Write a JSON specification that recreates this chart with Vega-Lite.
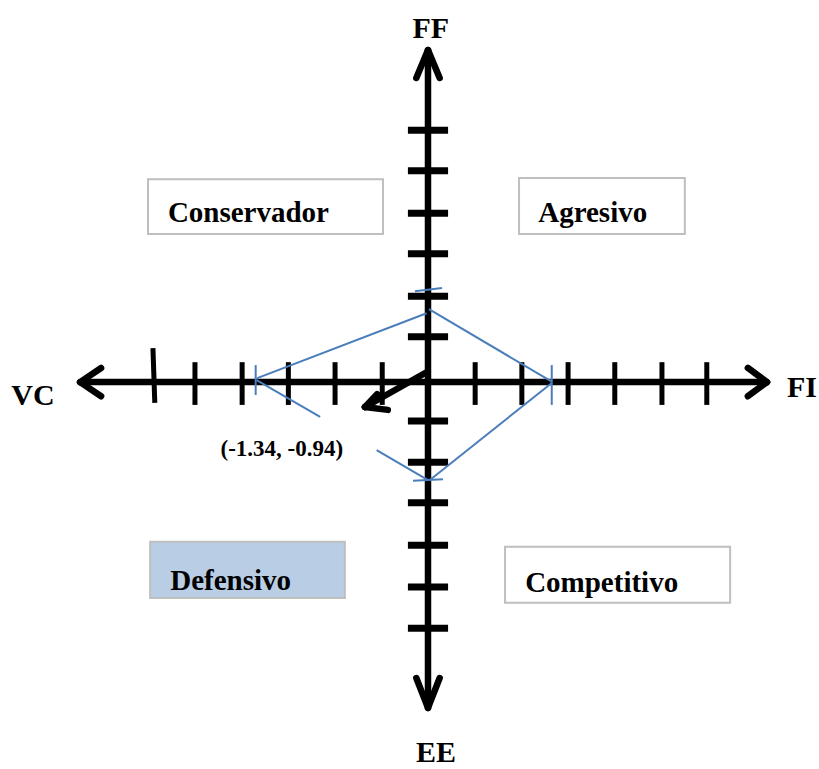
{
  "$schema": "https://vega.github.io/schema/vega-lite/v6.json",
  "width": 819,
  "height": 769,
  "autosize": {"type": "fit", "contains": "padding"},
  "padding": 0,
  "background": "white",
  "config": {"view": {"stroke": null}},
  "datasets": {
    "boxes": [
      {"name": "Conservador", "x": -5.996, "x2": -0.964, "y": 4.84, "y2": 3.52},
      {"name": "Agresivo", "x": 1.95, "x2": 5.50, "y": 4.87, "y2": 3.52},
      {"name": "Competitivo", "x": 1.65, "x2": 6.47, "y": -4.02, "y2": -5.37}
    ],
    "filledBoxes": [
      {"name": "Defensivo", "x": -5.95, "x2": -1.78, "y": -3.90, "y2": -5.25}
    ],
    "axes": [
      {"part": "horizontal", "x": -7.42, "y": -0.05, "x2": 7.24, "y2": -0.05},
      {"part": "vertical", "x": 0, "y": -7.88, "x2": 0, "y2": 7.93},
      {"part": "left head a", "x": -7.45, "y": -0.05, "x2": -7.0, "y2": 0.29},
      {"part": "left head b", "x": -7.45, "y": -0.05, "x2": -7.0, "y2": -0.39},
      {"part": "right head a", "x": 7.26, "y": -0.05, "x2": 6.85, "y2": 0.29},
      {"part": "right head b", "x": 7.26, "y": -0.05, "x2": 6.85, "y2": -0.39},
      {"part": "top head a", "x": 0, "y": 7.95, "x2": -0.25, "y2": 7.28},
      {"part": "top head b", "x": 0, "y": 7.95, "x2": 0.25, "y2": 7.28},
      {"part": "bottom head a", "x": 0, "y": -7.9, "x2": -0.25, "y2": -7.18},
      {"part": "bottom head b", "x": 0, "y": -7.9, "x2": 0.25, "y2": -7.18}
    ],
    "xTicks": [
      {"x": -5.89, "y": 0.77, "x2": -5.85, "y2": -0.55},
      {"x": -4.99, "y": 0.43, "x2": -4.99, "y2": -0.6},
      {"x": -3.98, "y": 0.43, "x2": -3.98, "y2": -0.6},
      {"x": -2.99, "y": 0.43, "x2": -2.99, "y2": -0.6},
      {"x": -1.99, "y": 0.43, "x2": -1.99, "y2": -0.6},
      {"x": -0.98, "y": 0.43, "x2": -0.98, "y2": -0.6},
      {"x": 1.01, "y": 0.43, "x2": 1.01, "y2": -0.6},
      {"x": 2.01, "y": 0.43, "x2": 2.01, "y2": -0.6},
      {"x": 3.0, "y": 0.43, "x2": 3.0, "y2": -0.6},
      {"x": 4.0, "y": 0.43, "x2": 4.0, "y2": -0.6},
      {"x": 5.01, "y": 0.43, "x2": 5.01, "y2": -0.6},
      {"x": 5.97, "y": 0.43, "x2": 5.97, "y2": -0.6}
    ],
    "yTicks": [
      {"x": -0.43, "y": 1.04, "x2": 0.43, "y2": 1.04},
      {"x": -0.43, "y": 2.02, "x2": 0.43, "y2": 2.02},
      {"x": -0.43, "y": 3.04, "x2": 0.43, "y2": 3.04},
      {"x": -0.43, "y": 4.02, "x2": 0.43, "y2": 4.02},
      {"x": -0.43, "y": 5.04, "x2": 0.43, "y2": 5.04},
      {"x": -0.43, "y": 6.02, "x2": 0.43, "y2": 6.02},
      {"x": -0.43, "y": -0.99, "x2": 0.43, "y2": -0.99},
      {"x": -0.43, "y": -1.98, "x2": 0.43, "y2": -1.98},
      {"x": -0.43, "y": -2.96, "x2": 0.43, "y2": -2.96},
      {"x": -0.43, "y": -3.98, "x2": 0.43, "y2": -3.98},
      {"x": -0.43, "y": -4.99, "x2": 0.43, "y2": -4.99},
      {"x": -0.43, "y": -5.98, "x2": 0.43, "y2": -5.98}
    ],
    "blue": [
      {"part": "VC to FF", "x": -3.67, "y": 0.04, "x2": -0.03, "y2": 1.61},
      {"part": "FF to FI", "x": 0.02, "y": 1.71, "x2": 2.65, "y2": -0.04},
      {"part": "FI to EE", "x": 2.65, "y": -0.07, "x2": 0.04, "y2": -2.41},
      {"part": "EE to VC lower", "x": 0.0, "y": -2.41, "x2": -1.10, "y2": -1.69},
      {"part": "EE to VC upper", "x": -2.31, "y": -0.89, "x2": -3.67, "y2": 0.0},
      {"part": "VC mark", "x": -3.69, "y": 0.36, "x2": -3.69, "y2": -0.36},
      {"part": "FI mark", "x": 2.65, "y": 0.36, "x2": 2.65, "y2": -0.6},
      {"part": "FF mark", "x": -0.28, "y": 2.14, "x2": 0.30, "y2": 2.22},
      {"part": "EE mark", "x": -0.32, "y": -2.43, "x2": 0.32, "y2": -2.39}
    ],
    "vector": [
      {"part": "shaft", "x": -0.06, "y": 0.17, "x2": -1.35, "y2": -0.65},
      {"part": "head a", "x": -1.35, "y": -0.65, "x2": -1.09, "y2": -0.34},
      {"part": "head b", "x": -1.35, "y": -0.65, "x2": -0.86, "y2": -0.72}
    ],
    "quadrantLabels": [
      {"label": "Conservador", "x": -5.57, "y": 3.80},
      {"label": "Agresivo", "x": 2.36, "y": 3.80},
      {"label": "Defensivo", "x": -5.52, "y": -5.05},
      {"label": "Competitivo", "x": 2.08, "y": -5.12}
    ],
    "axisLabels": [
      {"label": "FF", "x": 0.06, "y": 8.23},
      {"label": "EE", "x": 0.17, "y": -9.2},
      {"label": "VC", "x": -8.46, "y": -0.59},
      {"label": "FI", "x": 8.01, "y": -0.40}
    ],
    "pointLabel": [
      {"label": "(-1.34, -0.94)", "x": -3.13, "y": -1.82}
    ]
  },
  "encoding": {
    "x": {"field": "x", "type": "quantitative", "scale": {"domain": [-9.165, 8.373], "nice": false, "zero": false}, "axis": null},
    "y": {"field": "y", "type": "quantitative", "scale": {"domain": [-9.373, 9.157], "nice": false, "zero": false}, "axis": null}
  },
  "layer": [
    {
      "data": {"name": "boxes"},
      "mark": {"type": "rect", "fill": "white", "stroke": "#bfbfbf", "strokeWidth": 2},
      "encoding": {"x2": {"field": "x2"}, "y2": {"field": "y2"}}
    },
    {
      "data": {"name": "filledBoxes"},
      "mark": {"type": "rect", "fill": "#b9cde5", "stroke": "#bfbfbf", "strokeWidth": 2},
      "encoding": {"x2": {"field": "x2"}, "y2": {"field": "y2"}}
    },
    {
      "data": {"name": "axes"},
      "mark": {"type": "rule", "color": "black", "strokeWidth": 6.5, "strokeCap": "round"},
      "encoding": {"x2": {"field": "x2"}, "y2": {"field": "y2"}}
    },
    {
      "data": {"name": "xTicks"},
      "mark": {"type": "rule", "color": "black", "strokeWidth": 5},
      "encoding": {"x2": {"field": "x2"}, "y2": {"field": "y2"}}
    },
    {
      "data": {"name": "yTicks"},
      "mark": {"type": "rule", "color": "black", "strokeWidth": 7},
      "encoding": {"x2": {"field": "x2"}, "y2": {"field": "y2"}}
    },
    {
      "data": {"name": "blue"},
      "mark": {"type": "rule", "color": "#4a7ebb", "strokeWidth": 2},
      "encoding": {"x2": {"field": "x2"}, "y2": {"field": "y2"}}
    },
    {
      "data": {"name": "vector"},
      "mark": {"type": "rule", "color": "black", "strokeWidth": 6.5, "strokeCap": "round"},
      "encoding": {"x2": {"field": "x2"}, "y2": {"field": "y2"}}
    },
    {
      "data": {"name": "quadrantLabels"},
      "mark": {"type": "text", "font": "Liberation Serif", "fontWeight": "bold", "fontSize": 29, "align": "left", "baseline": "alphabetic", "color": "black"},
      "encoding": {"text": {"field": "label"}}
    },
    {
      "data": {"name": "axisLabels"},
      "mark": {"type": "text", "font": "Liberation Serif", "fontWeight": "bold", "fontSize": 30, "align": "center", "baseline": "alphabetic", "color": "black"},
      "encoding": {"text": {"field": "label"}}
    },
    {
      "data": {"name": "pointLabel"},
      "mark": {"type": "text", "font": "Liberation Serif", "fontWeight": "bold", "fontSize": 23, "align": "center", "baseline": "alphabetic", "color": "black"},
      "encoding": {"text": {"field": "label"}}
    }
  ]
}
